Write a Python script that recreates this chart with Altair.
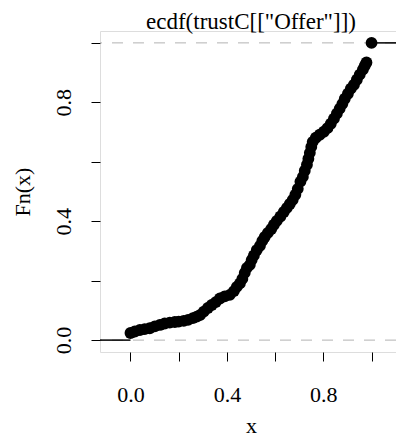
import altair as alt
import pandas as pd

# ECDF knots (x) and Fn(x) values
knot_x = [0.000, 0.018, 0.039, 0.059, 0.080, 0.101, 0.122, 0.142, 0.163, 0.184,
          0.200, 0.221, 0.239, 0.259, 0.275, 0.288, 0.304, 0.321, 0.337, 0.354,
          0.371, 0.391, 0.412, 0.429, 0.441, 0.454, 0.464, 0.474, 0.483, 0.495,
          0.503, 0.512, 0.524, 0.537, 0.547, 0.557, 0.570, 0.584, 0.595, 0.607,
          0.622, 0.636, 0.649, 0.661, 0.673, 0.684, 0.694, 0.705, 0.715, 0.723,
          0.732, 0.738, 0.744, 0.750, 0.756, 0.769, 0.785, 0.802, 0.817, 0.831,
          0.844, 0.856, 0.868, 0.879, 0.889, 0.902, 0.914, 0.927, 0.939, 0.951,
          0.964, 0.972, 0.979, 1.000]
knot_F = [0.024, 0.029, 0.034, 0.037, 0.040, 0.046, 0.051, 0.056, 0.059, 0.061,
          0.062, 0.065, 0.068, 0.074, 0.079, 0.084, 0.096, 0.108, 0.118, 0.128,
          0.140, 0.147, 0.152, 0.165, 0.179, 0.191, 0.206, 0.226, 0.243, 0.253,
          0.270, 0.285, 0.303, 0.317, 0.334, 0.347, 0.361, 0.374, 0.388, 0.401,
          0.416, 0.431, 0.445, 0.458, 0.472, 0.489, 0.509, 0.533, 0.549, 0.570,
          0.590, 0.610, 0.630, 0.650, 0.667, 0.681, 0.691, 0.701, 0.713, 0.728,
          0.745, 0.762, 0.779, 0.795, 0.812, 0.829, 0.846, 0.859, 0.876, 0.893,
          0.910, 0.923, 0.934, 1.000]

tick_values = [0.0, 0.2, 0.4, 0.6, 0.8, 1.0]
ref_lines = [0.0, 1.0]
title_text = 'ecdf(trustC[["Offer"]])'

x_dom = [-0.1264, 1.1015]
y_dom = [-0.04, 1.04]

pts = pd.DataFrame({"x": knot_x, "F": knot_F})
seg = pd.DataFrame({
    "x": [x_dom[0]] + knot_x,
    "x2": knot_x + [x_dom[1]],
    "F": [0.0] + knot_F,
})
ref = pd.DataFrame({"y": ref_lines})
ttl = pd.DataFrame({"t": [title_text]})

FONT = "Liberation Serif"
label_expr = ("(abs(datum.value) < 0.01 || abs(datum.value - 0.4) < 0.01 || "
              "abs(datum.value - 0.8) < 0.01) ? format(datum.value, '.1f') : ''")

xscale = alt.Scale(domain=x_dom, nice=False, zero=False)
yscale = alt.Scale(domain=y_dom, nice=False, zero=False)

xaxis = alt.Axis(values=tick_values, labelExpr=label_expr, tickSize=9,
                 tickColor="black", tickWidth=1, domain=False, grid=False,
                 labelFont=FONT, labelFontSize=22, labelColor="black",
                 labelBaseline="alphabetic", labelPadding=40, labelFlush=False,
                 labelOverlap=False,
                 title="x", titleFont=FONT, titleFontSize=22, titleFontWeight="normal",
                 titleColor="black", titleBaseline="alphabetic", titleY=80,
                 titleX=151, titleAnchor="middle", titleAlign="center")
yaxis = alt.Axis(values=tick_values, labelExpr=label_expr, tickSize=9,
                 tickColor="black", tickWidth=1, domain=False, grid=False,
                 labelFont=FONT, labelFontSize=22, labelColor="black",
                 labelAngle=270, labelAlign="center", labelBaseline="alphabetic",
                 labelPadding=21, labelFlush=False, labelOverlap=False,
                 title="Fn(x)", titleFont=FONT, titleFontSize=22, titleFontWeight="normal",
                 titleColor="black", titleAngle=270, titleAlign="center",
                 titleBaseline="alphabetic", titleX=-71, titleY=160.5)

base_x = alt.X("x:Q", scale=xscale, axis=xaxis)

dashed = alt.Chart(ref).mark_rule(color="#B3B3B3", strokeDash=[11, 10], strokeWidth=1).encode(
    y=alt.Y("y:Q", scale=yscale, axis=yaxis)
)
steps = alt.Chart(seg).mark_rule(color="black", strokeWidth=1.5, clip=True).encode(
    x=base_x, x2="x2:Q", y=alt.Y("F:Q", scale=yscale, axis=yaxis)
)
points = alt.Chart(pts).mark_circle(color="black", opacity=1, size=140).encode(
    x=base_x, y=alt.Y("F:Q", scale=yscale, axis=yaxis)
)
title_mark = alt.Chart(ttl).mark_text(
    font=FONT, fontSize=23, color="black", align="center", baseline="alphabetic"
).encode(text="t:N", x=alt.value(151), y=alt.value(-2))

chart = alt.layer(dashed, steps, points, title_mark).properties(
    width=296, height=321,
    autosize="none",
    padding={"left": 92, "top": 23, "right": 0, "bottom": 85},
).configure_view(stroke="black", strokeWidth=1).configure(background="white")

chart.save("out.html", embed_options={"renderer": "svg", "actions": False})
